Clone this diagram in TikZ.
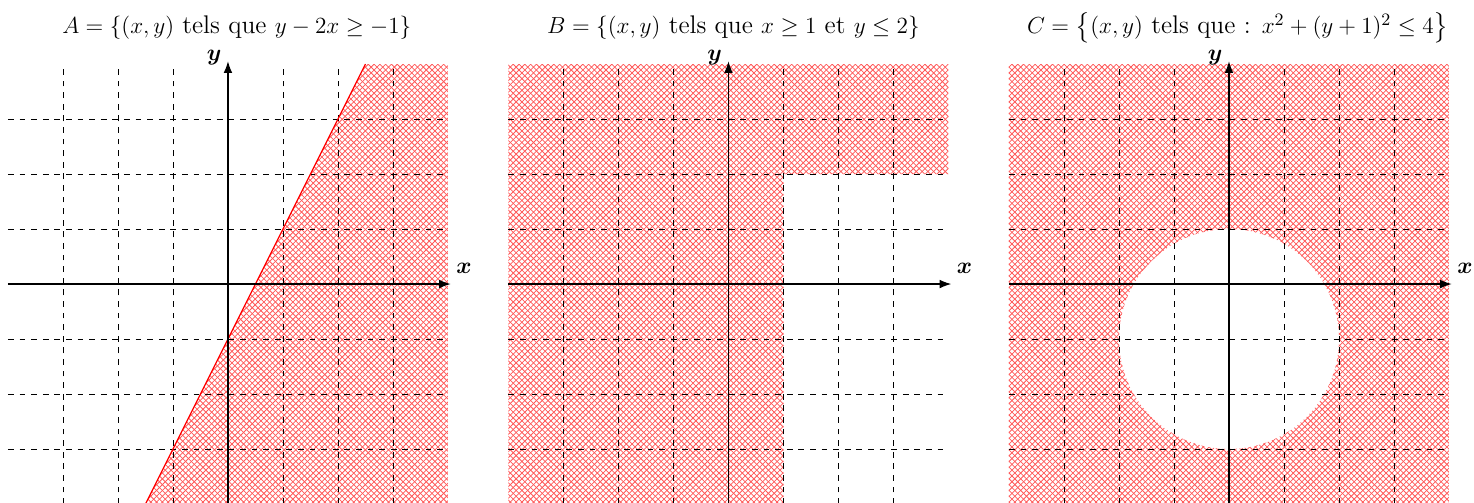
\documentclass[tikz,border=0pt]{standalone}
\usepackage{amsmath}
\usepackage{amssymb}
\usepackage{bm}
\usetikzlibrary{patterns, positioning, arrows.meta}
\tikzset{
    grille/.style={dashed, thin}, % dashed grid
    axe/.style={-{Latex[length=6pt, width=4.5pt]}, semithick}, % axes
    hachures/.style={pattern=north east lines, pattern color=red!65,
        preaction={pattern=north west lines, pattern color=red!65}}, % red crosshatch
    frontiere/.style={red, semithick},
    titre/.style={font=\fontsize{13.2}{15}\selectfont, anchor=base, inner sep=0pt},
    etiquette/.style={font=\fontsize{13}{15}\selectfont},
}

\begin{document}
\begin{tikzpicture}
    \useasboundingbox (-4.145,-3.964) rectangle (22.655,5.164);

    % Ensemble A
    \begin{scope}
        \fill[hachures] (-1.5,-4) -- (4,-4) -- (4,4) -- (2.5,4) -- cycle;
        \foreach \i in {-3,...,3} {
            \draw[grille] (\i,-4) -- (\i,4);
            \draw[grille] (-4,\i) -- (4,\i);
        }
        \coordinate (dA1) at (-1.5,-4);
        \coordinate (dA2) at (2.5,4);
        \draw[frontiere] (dA1) -- (dA2);
        \coordinate (xgA) at (-4,0);
        \coordinate (xdA) at (4.05,0);
        \coordinate (ybA) at (0,-4);
        \coordinate (yhA) at (0,4.05);
        \draw[axe] (xgA) -- (xdA);
        \draw[axe] (ybA) -- (yhA);
        \node[etiquette] (xA) at (4.29,0.29) {$\bm{x}$};
        \node[etiquette] (yA) at (-0.25,4.11) {$\bm{y}$};
        \node[titre] (titreA) at (0.16,4.55) {$A=\{(x,y)$ tels que $y-2x\geq -1\}$};
    \end{scope}

    % Ensemble B
    \begin{scope}[xshift=9.1cm]
        \fill[hachures] (-4,-4) -- (1,-4) -- (1,2) -- (4,2) -- (4,4) -- (-4,4) -- cycle;
        \foreach \i in {-3,...,3} {
            \draw[grille] (\i,-4) -- (\i,4);
            \draw[grille] (-4,\i) -- (4,\i);
        }
        \coordinate (xgB) at (-4,0);
        \coordinate (xdB) at (4.05,0);
        \coordinate (ybB) at (0,-4);
        \coordinate (yhB) at (0,4.05);
        \draw[axe] (xgB) -- (xdB);
        \draw[axe] (ybB) -- (yhB);
        \node[etiquette] (xB) at (4.29,0.29) {$\bm{x}$};
        \node[etiquette] (yB) at (-0.25,4.11) {$\bm{y}$};
        \node[titre] (titreB) at (0.09,4.55) {$B=\{(x,y)$ tels que $x\geq 1$ et $y\leq 2\}$};
    \end{scope}

    % Ensemble C
    \begin{scope}[xshift=18.2cm]
        \fill[hachures, even odd rule] (-4,-4) rectangle (4,4) (0,-1) circle (2);
        \foreach \i in {-3,...,3} {
            \draw[grille] (\i,-4) -- (\i,4);
            \draw[grille] (-4,\i) -- (4,\i);
        }
        \coordinate (xgC) at (-4,0);
        \coordinate (xdC) at (4.05,0);
        \coordinate (ybC) at (0,-4);
        \coordinate (yhC) at (0,4.05);
        \draw[axe] (xgC) -- (xdC);
        \draw[axe] (ybC) -- (yhC);
        \node[etiquette] (xC) at (4.29,0.29) {$\bm{x}$};
        \node[etiquette] (yC) at (-0.25,4.11) {$\bm{y}$};
        \node[titre] (titreC) at (0.16,4.55) {$C=\big\{(x,y)$ tels que : $x^2+(y+1)^2\leq 4\big\}$};
    \end{scope}
\end{tikzpicture}
\end{document}
